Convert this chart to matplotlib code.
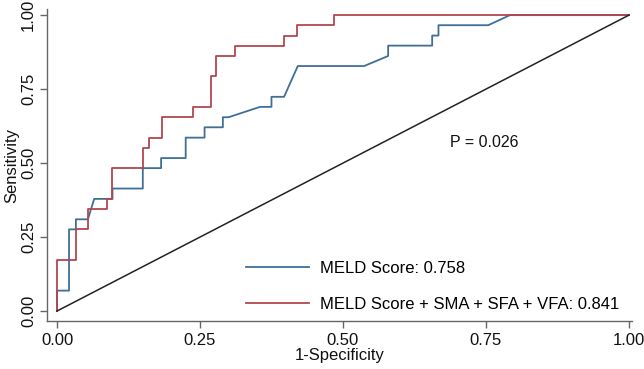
import matplotlib
matplotlib.use("Agg")
import matplotlib.pyplot as plt

plt.rcParams['font.family'] = ['Liberation Sans', 'DejaVu Sans']

# ROC points
meld_fpr = [0, 0, 0.021, 0.021, 0.033, 0.033, 0.054, 0.065, 0.097, 0.097, 0.150, 0.150,
            0.182, 0.182, 0.225, 0.225, 0.258, 0.258, 0.290, 0.290, 0.300, 0.355, 0.375,
            0.375, 0.397, 0.421, 0.537, 0.579, 0.579, 0.656, 0.656, 0.667, 0.667, 0.754,
            0.792, 1.0]
meld_tpr = [0, 0.069, 0.069, 0.276, 0.276, 0.310, 0.310, 0.379, 0.379, 0.414, 0.414, 0.483,
            0.483, 0.517, 0.517, 0.586, 0.586, 0.621, 0.621, 0.655, 0.655, 0.690, 0.690,
            0.724, 0.724, 0.828, 0.828, 0.862, 0.897, 0.897, 0.931, 0.931, 0.966, 0.966,
            1.0, 1.0]

comb_fpr = [0, 0, 0.033, 0.033, 0.054, 0.054, 0.087, 0.087, 0.097, 0.097, 0.150, 0.150,
            0.161, 0.161, 0.183, 0.183, 0.237, 0.237, 0.269, 0.269, 0.278, 0.278, 0.311,
            0.311, 0.397, 0.397, 0.419, 0.419, 0.484, 0.484, 1.0]
comb_tpr = [0, 0.172, 0.172, 0.276, 0.276, 0.345, 0.345, 0.379, 0.379, 0.483, 0.483, 0.552,
            0.552, 0.586, 0.586, 0.655, 0.655, 0.690, 0.690, 0.793, 0.793, 0.862, 0.862,
            0.897, 0.897, 0.931, 0.931, 0.966, 0.966, 1.0, 1.0]

labels = ['MELD Score: 0.758', 'MELD Score + SMA + SFA + VFA: 0.841']
p_text = 'P = 0.026'
ticks = [0, 0.25, 0.5, 0.75, 1.0]
tick_labels = ['0.00', '0.25', '0.50', '0.75', '1.00']

blue = '#3f6f97'
red = '#b3464f'

fig = plt.figure(figsize=(6.44, 3.69), dpi=100)
ax = fig.add_axes([0.073, 0.129, 0.908, 0.846])

ax.plot(meld_fpr, meld_tpr, color=blue, lw=1.3, label=labels[0])
ax.plot(comb_fpr, comb_tpr, color=red, lw=1.3, label=labels[1])
ax.plot([0, 1], [0, 1], color='#222222', lw=1.1)

ax.set_xlim(-0.0175, 1.005)
ax.set_ylim(-0.035, 1.02)
ax.set_xticks(ticks)
ax.set_xticklabels(tick_labels)
ax.set_yticks(ticks)
ax.set_yticklabels(tick_labels, rotation=90, va='center')

for s in ['top', 'right']:
    ax.spines[s].set_visible(False)
for s in ['left', 'bottom']:
    ax.spines[s].set_color('#666666')
    ax.spines[s].set_linewidth(1.0)
ax.tick_params(direction='out', length=5, width=1.0, color='#666666',
               labelsize=12, labelcolor='#111111')
ax.tick_params(axis='x', pad=3)
ax.tick_params(axis='y', pad=3)

ax.set_xlabel('1-Specificity', fontsize=12, labelpad=0, color='#111111')
ax.set_ylabel('Sensitivity', fontsize=12, labelpad=1, color='#111111')

ax.text(0.687, 0.568, p_text, fontsize=11.5, va='center', ha='left', color='#111111')

leg = ax.legend(loc='upper left', bbox_to_anchor=(246 / 644, 1 - 261 / 369),
                bbox_transform=fig.transFigure, fontsize=12, handlelength=3.8,
                handletextpad=0.65, labelspacing=1.25, borderpad=0,
                frameon=False, borderaxespad=0)

fig.savefig('out.png', dpi=100)
